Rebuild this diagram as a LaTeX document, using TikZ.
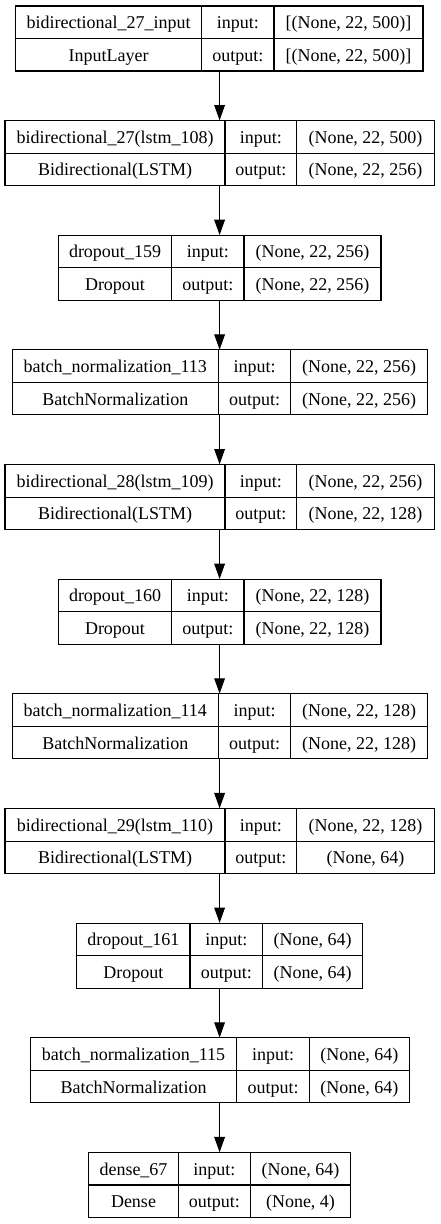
\documentclass[tikz,border=0pt]{standalone}
\usepackage{fontspec}
\setmainfont{Liberation Serif}
\usetikzlibrary{arrows.meta}

\begin{document}
\begin{tikzpicture}[x=0.75pt, y=0.75pt,
	layer/.style={draw=none, inner sep=0pt, minimum height=48.75pt},
	cell/.style={draw=black, line width=0.8pt},
	label/.style={inner sep=0pt, font=\fontsize{13.5}{16}\selectfont, text height=9.6pt, text depth=0pt},
	flow/.style={draw=black, line width=0.8pt, -{Triangle[length=11.5pt, width=8pt]}}]
	
	% Page
	\useasboundingbox (0,0) rectangle (440,-1224);
	
	% Layers (top edge, cell borders in px)
	\foreach \n/\y/\a/\b/\c/\d/\lname/\ltype/\lin/\lout in {
		1/6/15.7/201.7/274/423/bidirectional\_27\_input/InputLayer/{[(None, 22, 500)]}/{[(None, 22, 500)]},
		2/120.65/5/225/296.7/434.3/bidirectional\_27(lstm\_108)/Bidirectional(LSTM)/{(None, 22, 500)}/{(None, 22, 256)},
		3/235.3/58.3/171.7/244/381/dropout\_159/Dropout/{(None, 22, 256)}/{(None, 22, 256)},
		4/349.95/12.3/218.3/290.7/427.7/batch\_normalization\_113/BatchNormalization/{(None, 22, 256)}/{(None, 22, 256)},
		5/464.6/5/225/296.7/434.3/bidirectional\_28(lstm\_109)/Bidirectional(LSTM)/{(None, 22, 256)}/{(None, 22, 128)},
		6/579.25/58.3/171.7/244/381/dropout\_160/Dropout/{(None, 22, 128)}/{(None, 22, 128)},
		7/693.9/12.3/218.3/290.7/427.7/batch\_normalization\_114/BatchNormalization/{(None, 22, 128)}/{(None, 22, 128)},
		8/808.55/5/225/296.7/434.3/bidirectional\_29(lstm\_110)/Bidirectional(LSTM)/{(None, 22, 128)}/{(None, 64)},
		9/923.2/76.7/190/262.7/362.7/dropout\_161/Dropout/{(None, 64)}/{(None, 64)},
		10/1037.85/30.3/236.7/309.3/409.3/batch\_normalization\_115/BatchNormalization/{(None, 64)}/{(None, 64)},
		11/1152.5/88.7/178.3/250.3/350.7/dense\_67/Dense/{(None, 64)}/{(None, 4)}}
	{
		\pgfmathsetmacro\w{(\d-\a)*0.75}
		\node[layer, minimum width=\w pt] (L\n) at (219.6,-\y-32.5) {};
		\draw[cell] (\a,-\y) rectangle (\d,-\y-65);
		\draw[cell] (\a,-\y-32.5) -- (\d,-\y-32.5) (\b,-\y) -- (\b,-\y-65) (\c,-\y) -- (\c,-\y-65);
		\node[label] at ({(\a+\b)/2},-\y-16.25) {\lname};
		\node[label] at ({(\a+\b)/2},-\y-48.75) {\ltype};
		\node[label] at ({(\b+\c)/2},-\y-16.25) {input:};
		\node[label] at ({(\b+\c)/2},-\y-48.75) {output:};
		\node[label] at ({(\c+\d)/2},-\y-16.25) {\lin};
		\node[label] at ({(\c+\d)/2},-\y-48.75) {\lout};
	}
	
	% Arrows
	\foreach \i [evaluate=\i as \j using int(\i+1)] in {1,...,10}
	\draw[flow] (L\i.south) -- (L\j.north);
	
\end{tikzpicture}
\end{document}
